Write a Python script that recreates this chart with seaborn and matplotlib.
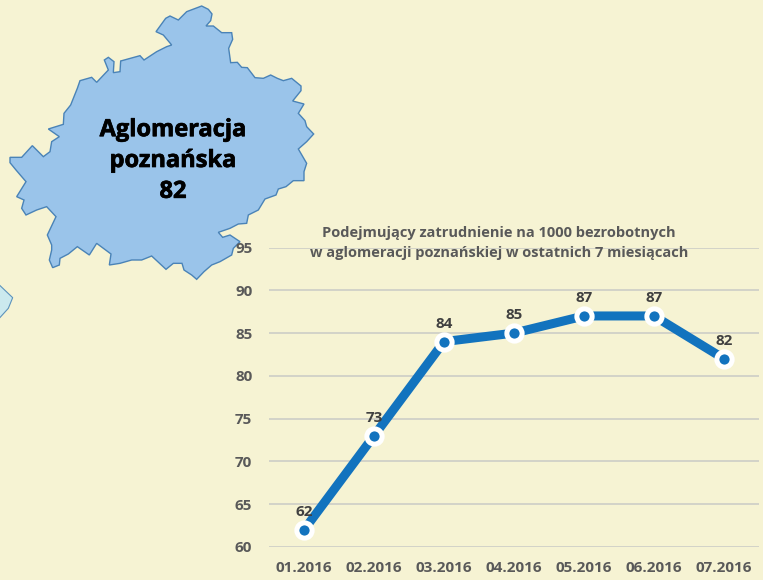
import pandas as pd
import seaborn as sns
from matplotlib import pyplot as plt
from matplotlib import patheffects
from matplotlib.patches import Polygon

months = ['01.2016', '02.2016', '03.2016', '04.2016', '05.2016', '06.2016', '07.2016']
values = [62, 73, 84, 85, 87, 87, 82]
y_ticks = [60, 65, 70, 75, 80, 85, 90, 95]

title_lines = 'Podejmujący zatrudnienie na 1000 bezrobotnych\nw aglomeracji poznańskiej w ostatnich 7 miesiącach'
map_label = 'Aglomeracja\npoznańska\n82'

map_outline = [
    (605, 18), (625, 28), (636, 42), (632, 62), (618, 78), (640, 78), (665, 98), (695, 98), (698, 118),
    (686, 145), (692, 188), (712, 187), (725, 202), (742, 203), (765, 233), (790, 235), (812, 225),
    (832, 235), (850, 242), (875, 235), (903, 258), (903, 272), (878, 303), (912, 312), (895, 340),
    (915, 362), (920, 380), (941, 402), (920, 425), (895, 447), (920, 490), (912, 515), (912, 542),
    (880, 542), (858, 560), (835, 567), (828, 585), (795, 597), (775, 630), (745, 645), (740, 670),
    (715, 672), (690, 685), (655, 697), (668, 712), (690, 705), (720, 725), (700, 745), (695, 765),
    (660, 785), (635, 795), (612, 815), (590, 838), (575, 825), (552, 810), (546, 790), (520, 790),
    (498, 808), (455, 768), (425, 780), (395, 780), (360, 790), (328, 795), (333, 762), (290, 730),
    (268, 765), (232, 740), (205, 762), (180, 775), (178, 795), (158, 803), (148, 780), (155, 750),
    (155, 735), (142, 705), (168, 650), (140, 620), (110, 630), (78, 645), (65, 625), (72, 600),
    (50, 590), (78, 545), (48, 510), (30, 488), (30, 472), (65, 472), (97, 437), (130, 470), (150, 455),
    (155, 425), (178, 410), (145, 387), (190, 373), (192, 340), (212, 315), (232, 265), (240, 242),
    (275, 232), (290, 247), (325, 210), (313, 180), (325, 172), (342, 185), (340, 218), (360, 215),
    (362, 183), (420, 167), (432, 180), (470, 155), (500, 140), (515, 135), (490, 105), (468, 95),
    (497, 55), (510, 48), (535, 60), (560, 35),
]
side_outline = [(-5, 852), (38, 893), (25, 925), (-5, 958)]

bg = '#F6F3D3'
W, H = 763, 580

sns.set_theme(style='white')
plt.rcParams['font.family'] = ['Open Sans', 'DejaVu Sans']

df = pd.DataFrame({'month': months, 'value': values})

fig = plt.figure(figsize=(W / 100, H / 100), dpi=100, facecolor=bg)

# map sits behind the chart, in crop coordinates
map_ax = fig.add_axes([0, 0, 1, 1], zorder=0)
map_ax.set_xlim(0, W * 3)
map_ax.set_ylim(H * 3, 0)
map_ax.axis('off')
map_ax.add_patch(Polygon(map_outline, closed=True, fc='#9AC4EA', ec='#4A83B7', lw=1.0))
map_ax.add_patch(Polygon(side_outline, closed=True, fc='#CBE9EE', ec='#5C93BC', lw=0.8))
label = fig.text(173 / W, 1 - 161 / H, map_label, ha='center', va='center', fontsize=17, fontweight='bold',
                 color='black', linespacing=1.38, zorder=5)
label.set_path_effects([patheffects.withStroke(linewidth=0.5, foreground='black')])

ax = fig.add_axes([269 / W, 1 - 547 / H, 490 / W, 299.5 / H], zorder=1)
ax.patch.set_alpha(0)
sns.lineplot(data=df, x='month', y='value', ax=ax, color='#1273BE', lw=6.5, marker='o', markersize=11,
             markerfacecolor='#1273BE', markeredgecolor='white', markeredgewidth=3.6, errorbar=None, zorder=3)

ax.set_xlim(-0.5, len(months) - 0.5)
ax.set_ylim(60, 95)
ax.set_yticks(y_ticks)
ax.set_xlabel('')
ax.set_ylabel('')
ax.grid(axis='y', color='#CDCDC6', lw=1.2)
ax.grid(axis='x', visible=False)
ax.set_axisbelow(True)
sns.despine(ax=ax, left=True, bottom=True)
ax.tick_params(axis='both', length=0, labelcolor='#595959', labelsize=11)
ax.tick_params(axis='x', pad=10)
ax.tick_params(axis='y', pad=12)
for t in ax.get_xticklabels() + ax.get_yticklabels():
    t.set_fontweight('bold')

for i, v in enumerate(values):
    ax.annotate(str(v), (i, v), xytext=(0, 8), textcoords='offset points', ha='center', va='bottom',
                fontsize=11, fontweight='bold', color='#404040', zorder=6)

fig.text(499 / W, 1 - 243 / H, title_lines, ha='center', va='center', fontsize=10.5, fontweight='bold',
         color='#595959', linespacing=1.6, zorder=6)

fig.savefig('out.png', dpi=100, facecolor=bg)
